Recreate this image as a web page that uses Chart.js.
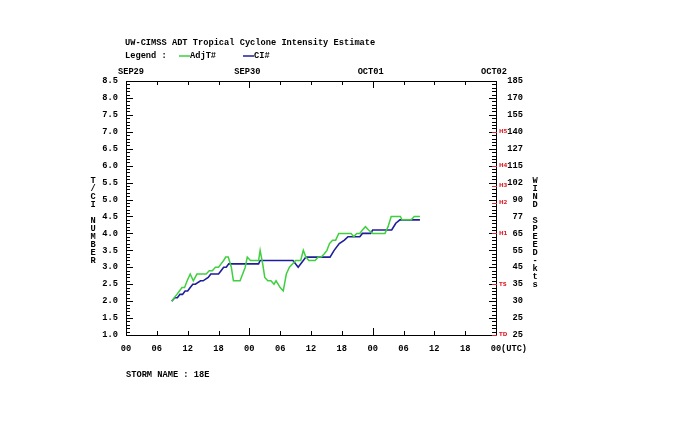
<!DOCTYPE html>
<html>
<head>
<meta charset="utf-8">
<script src="https://cdn.jsdelivr.net/npm/chart.js@4.4.0/dist/chart.umd.min.js"></script>
<style>
  body { margin: 0; background: #fff; }
  #wrap { width: 700px; height: 444px; }
</style>
</head>
<body>
<div id="wrap"><canvas id="adt"></canvas></div>
<script>
// hours after SEP29 00UTC
const adjHours = [8.9, 9.4, 9.9, 10.4, 10.9, 11.4, 11.9, 12.5, 13.1, 13.8, 14.4, 15.0, 15.6, 16.2, 16.8, 17.4, 18.0, 18.5, 19.0, 19.4, 19.9,
  20.5, 20.9, 21.5, 22.2, 22.7, 23.2, 23.6, 24.2, 24.8, 25.3, 25.8, 26.1, 26.6, 27.0, 27.6, 28.2, 28.8, 29.2, 29.6, 30.0, 30.6,
  31.2, 31.8, 32.4, 33.0, 33.5, 34.0, 34.5, 35.0, 35.6, 36.2, 36.8, 37.4, 38.0, 38.6, 39.1, 39.6, 40.2, 40.8, 41.4, 42.0, 42.6,
  43.2, 43.8, 44.3, 44.9, 45.5, 46.0, 46.6, 47.2, 48.0, 48.6, 49.2, 49.8, 50.4, 51.0, 51.6, 52.2, 52.8, 53.4, 53.7, 54.3, 54.9,
  55.5, 56.1, 56.7, 57.2];
const adjT = [2.0, 2.1, 2.2, 2.3, 2.4, 2.4, 2.6, 2.8, 2.6, 2.8, 2.8, 2.8, 2.8, 2.9, 2.9, 3.0, 3.0, 3.1, 3.2, 3.3, 3.3,
  3.0, 2.6, 2.6, 2.6, 2.8, 3.0, 3.3, 3.2, 3.2, 3.2, 3.2, 3.5, 3.1, 2.7, 2.6, 2.6, 2.5, 2.6, 2.5, 2.4, 2.3,
  2.8, 3.0, 3.1, 3.2, 3.2, 3.2, 3.5, 3.3, 3.2, 3.2, 3.2, 3.3, 3.3, 3.4, 3.5, 3.7, 3.8, 3.8, 4.0, 4.0, 4.0,
  4.0, 4.0, 3.9, 4.0, 4.0, 4.1, 4.2, 4.1, 4.0, 4.0, 4.0, 4.0, 4.0, 4.2, 4.5, 4.5, 4.5, 4.5, 4.4, 4.4, 4.4,
  4.4, 4.5, 4.5, 4.5];

const ciHours = [8.9, 9.5, 10.0, 10.5, 11.0, 11.5, 12.0, 12.5, 13.0, 13.5, 14.5, 15.0, 16.0, 16.5, 18.0, 18.5, 19.0, 19.5, 20.0,
  25.8, 26.1, 32.5, 33.5, 34.5, 35.0, 39.7, 40.5, 41.5, 42.5, 43.2, 45.5, 46.0, 47.6, 48.0, 51.7, 52.5, 53.3, 57.2];
const ciVals = [2.0, 2.1, 2.1, 2.2, 2.2, 2.3, 2.3, 2.4, 2.5, 2.5, 2.6, 2.6, 2.7, 2.8, 2.8, 2.9, 3.0, 3.0, 3.1,
  3.1, 3.2, 3.2, 3.0, 3.2, 3.3, 3.3, 3.5, 3.7, 3.8, 3.9, 3.9, 4.0, 4.0, 4.1, 4.1, 4.3, 4.4, 4.4];

// axis labels
const yTicks = [1.0, 1.5, 2.0, 2.5, 3.0, 3.5, 4.0, 4.5, 5.0, 5.5, 6.0, 6.5, 7.0, 7.5, 8.0, 8.5];
const windLabels = ['25', '25', '30', '35', '45', '55', '65', '77', '90', '102', '115', '127', '140', '155', '170', '185'];
const catNames = ['TD', 'TS', 'H1', 'H2', 'H3', 'H4', 'H5'];
const catLevels = [1.0, 2.5, 4.0, 4.9, 5.4, 6.0, 7.0];
const hourTicks = [0, 6, 12, 18, 24, 30, 36, 42, 48, 54, 60, 66, 72];
const hourLabels = ['00', '06', '12', '18', '00', '06', '12', '18', '00', '06', '12', '18', '00'];
const dayNames = ['SEP29', 'SEP30', 'OCT01', 'OCT02'];
const dayHours = [0, 24, 48, 72];

const FONT = 'bold 8.7px "Liberation Mono", "DejaVu Sans Mono", monospace';
const GREEN = '#3fcf3f';
const BLUE = '#1e1e9a';

function toXY(xs, ys) {
  return xs.map((h, i) => ({ x: h, y: ys[i] }));
}

// 枠・目盛り・文字を描くプラグイン
const framePlugin = {
  id: 'frame',
  afterDraw(chart) {
    const ctx = chart.ctx;
    const xs = chart.scales.x;
    const ys = chart.scales.y;
    const a = chart.chartArea;
    ctx.save();
    ctx.strokeStyle = '#000';
    ctx.fillStyle = '#000';
    ctx.lineWidth = 1;
    ctx.strokeRect(a.left + 0.5, a.top + 0.5, a.right - a.left, a.bottom - a.top);

    // y ticks (inside)
    ctx.beginPath();
    for (let v = 10; v <= 85; v++) {
      const py = Math.round(ys.getPixelForValue(v / 10)) + 0.5;
      const len = v % 5 === 0 ? 7 : 4;
      ctx.moveTo(a.left, py); ctx.lineTo(a.left + len, py);
      ctx.moveTo(a.right, py); ctx.lineTo(a.right - len, py);
    }
    // x ticks
    hourTicks.forEach(h => {
      const px = Math.round(xs.getPixelForValue(h)) + 0.5;
      const len = h % 24 === 0 ? 7 : 4;
      ctx.moveTo(px, a.bottom); ctx.lineTo(px, a.bottom - len);
      ctx.moveTo(px, a.top); ctx.lineTo(px, a.top + len);
    });
    ctx.stroke();

    ctx.font = FONT;
    ctx.textBaseline = 'middle';
    // left labels
    ctx.textAlign = 'right';
    yTicks.forEach(v => ctx.fillText(v.toFixed(1), a.left - 8, ys.getPixelForValue(v)));
    // right wind labels
    windLabels.forEach((t, i) => ctx.fillText(t, a.right + 27, ys.getPixelForValue(yTicks[i])));
    // bottom labels
    ctx.textAlign = 'center';
    hourLabels.forEach((t, i) => {
      const px = xs.getPixelForValue(hourTicks[i]);
      ctx.fillText(t, px, a.bottom + 14);
      if (i === hourLabels.length - 1) {
        ctx.textAlign = 'left';
        ctx.fillText('(UTC)', px + 5, a.bottom + 14);
        ctx.textAlign = 'center';
      }
    });
    // day labels on top
    dayNames.forEach((t, i) => ctx.fillText(t, xs.getPixelForValue(dayHours[i]) + (i === 0 ? 5 : -2), a.top - 9));

    // stacked axis titles
    const leftTitle = 'T/CI NUMBER';
    for (let i = 0; i < leftTitle.length; i++) ctx.fillText(leftTitle[i], 93, 181 + i * 8);
    const rightTitle = 'WIND SPEED-kts';
    for (let i = 0; i < rightTitle.length; i++) ctx.fillText(rightTitle[i], 535, 181 + i * 8);

    // storm categories
    ctx.fillStyle = '#e0202a';
    ctx.strokeStyle = '#e0202a';
    ctx.font = 'bold 5.5px "DejaVu Sans", sans-serif';
    ctx.textAlign = 'left';
    catNames.forEach((t, i) => {
      const py = ys.getPixelForValue(catLevels[i]);
      ctx.fillText(t, a.right + 3, py);
      ctx.beginPath();
      ctx.moveTo(a.right - 4, Math.round(py) + 0.5); ctx.lineTo(a.right + 1, Math.round(py) + 0.5);
      ctx.stroke();
    });

    // title, legend, storm name
    ctx.fillStyle = '#000';
    ctx.font = FONT;
    ctx.textAlign = 'left';
    ctx.fillText('UW-CIMSS ADT Tropical Cyclone Intensity Estimate', 125, 43);
    ctx.fillText('Legend :', 125, 56);
    ctx.fillText('AdjT#', 190, 56);
    ctx.fillText('CI#', 254, 56);
    ctx.fillText('STORM NAME : 18E', 126, 375);
    ctx.lineWidth = 1.5;
    ctx.strokeStyle = GREEN;
    ctx.beginPath(); ctx.moveTo(179, 56); ctx.lineTo(190, 56); ctx.stroke();
    ctx.strokeStyle = BLUE;
    ctx.beginPath(); ctx.moveTo(243, 56); ctx.lineTo(254, 56); ctx.stroke();
    ctx.restore();
  }
};

new Chart(document.getElementById('adt'), {
  type: 'scatter',
  data: {
    datasets: [{
      label: 'AdjT#',
      data: toXY(adjHours, adjT),
      showLine: true,
      borderColor: GREEN,
      borderWidth: 1.5,
      pointRadius: 0,
      tension: 0
    }, {
      label: 'CI#',
      data: toXY(ciHours, ciVals),
      showLine: true,
      borderColor: BLUE,
      borderWidth: 1.6,
      pointRadius: 0,
      tension: 0
    }]
  },
  options: {
    responsive: true,
    maintainAspectRatio: false,
    animation: false,
    layout: { padding: { left: 126, right: 204, top: 81, bottom: 109 } },
    plugins: { legend: { display: false }, tooltip: { enabled: false } },
    scales: {
      x: { type: 'linear', min: 0, max: 72, display: false },
      y: { type: 'linear', min: 1.0, max: 8.5, display: false }
    }
  },
  plugins: [framePlugin]
});
</script>
</body>
</html>
